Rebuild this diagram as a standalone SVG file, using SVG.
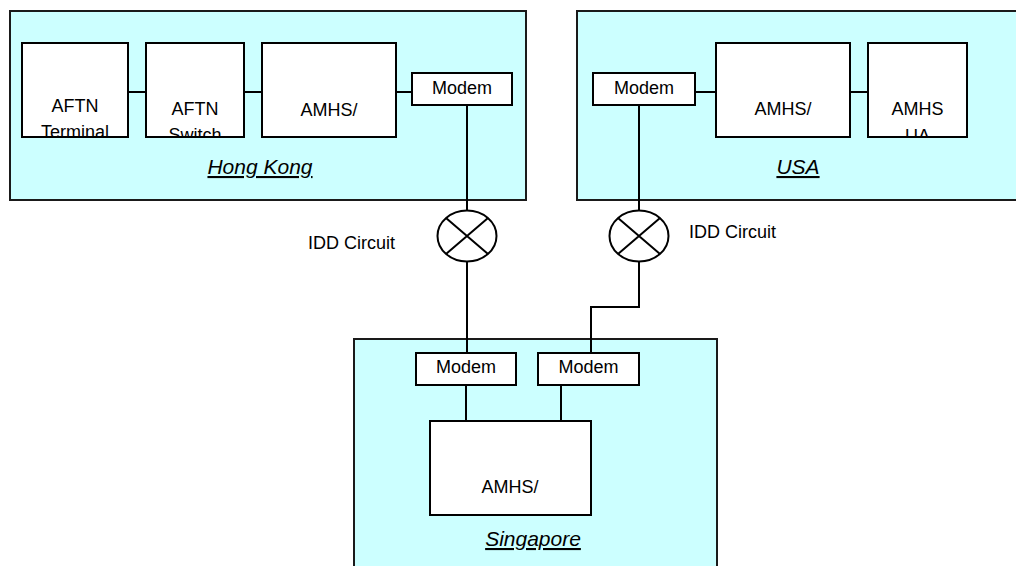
<svg xmlns="http://www.w3.org/2000/svg" width="1016" height="566" viewBox="0 0 1016 566">
<style>
.region{fill:#ccffff;stroke:#1a1a1a;stroke-width:2}
.box{fill:#ffffff;stroke:#000;stroke-width:2}
.t{font-family:"Liberation Sans",Arial,sans-serif;font-size:18px;fill:#000;text-anchor:middle}
.lbl{font-family:"Liberation Sans",Arial,sans-serif;font-size:21px;font-style:italic;text-decoration:underline;fill:#000;text-anchor:middle}
.plain{font-family:"Liberation Sans",Arial,sans-serif;font-size:18px;fill:#000}
.wire{fill:none;stroke:#000;stroke-width:2}
.sym{fill:#ffffff;stroke:#000;stroke-width:2}
</style>
<defs>
<clipPath id="cTerm"><rect x="23" y="44" width="104" height="92"/></clipPath>
<clipPath id="cSw"><rect x="147" y="44" width="96" height="92"/></clipPath>
<clipPath id="cUA"><rect x="869" y="44" width="97" height="92"/></clipPath>
</defs>

<g id="hongkong">
<rect class="region" x="10" y="11" width="516" height="189"/>
<text class="lbl" x="260" y="174">Hong Kong</text>
</g>
<g id="usa">
<rect class="region" x="577" y="11" width="450" height="189"/>
<text class="lbl" x="798" y="174">USA</text>
</g>
<g id="singapore">
<rect class="region" x="354" y="339" width="363" height="240"/>
<text class="lbl" x="533" y="546">Singapore</text>
</g>

<g id="connectors">
<line class="wire" x1="128" y1="92" x2="146" y2="92"/>
<line class="wire" x1="244" y1="92" x2="262" y2="92"/>
<line class="wire" x1="396" y1="92" x2="412" y2="92"/>
<line class="wire" x1="695" y1="92" x2="716" y2="92"/>
<line class="wire" x1="850" y1="92" x2="868" y2="92"/>
<polyline class="wire" points="467,105 467,353"/>
<polyline class="wire" points="639,105 639,307 591,307 591,353"/>
<line class="wire" x1="466" y1="385" x2="466" y2="421"/>
<line class="wire" x1="561" y1="385" x2="561" y2="421"/>
</g>

<g id="aftn-terminal">
<rect class="box" x="22" y="43" width="106" height="94"/>
<g clip-path="url(#cTerm)">
<text class="t" x="75" y="112">AFTN</text>
<text class="t" x="75" y="138">Terminal</text>
</g>
</g>
<g id="aftn-switch">
<rect class="box" x="146" y="43" width="98" height="94"/>
<g clip-path="url(#cSw)">
<text class="t" x="195" y="115">AFTN</text>
<text class="t" x="195" y="141">Switch</text>
</g>
</g>
<g id="hk-amhs">
<rect class="box" x="262" y="43" width="134" height="94"/>
<text class="t" x="329" y="116">AMHS/</text>
</g>
<g id="hk-modem">
<rect class="box" x="412" y="73" width="100" height="32"/>
<text class="t" x="462" y="94">Modem</text>
</g>

<g id="usa-modem">
<rect class="box" x="593" y="73" width="102" height="32"/>
<text class="t" x="644" y="94">Modem</text>
</g>
<g id="usa-amhs">
<rect class="box" x="716" y="43" width="134" height="94"/>
<text class="t" x="783" y="115">AMHS/</text>
</g>
<g id="usa-ua">
<rect class="box" x="868" y="43" width="99" height="94"/>
<g clip-path="url(#cUA)">
<text class="t" x="917.5" y="115">AMHS</text>
<text class="t" x="917.5" y="142">UA</text>
</g>
</g>

<g id="idd-left">
<ellipse class="sym" cx="467" cy="236" rx="29.5" ry="25.5"/>
<path class="wire" d="M446,218 L488,254 M488,218 L446,254"/>
<text class="plain" x="308" y="249">IDD Circuit</text>
</g>
<g id="idd-right">
<ellipse class="sym" cx="639" cy="236" rx="29.5" ry="25.5"/>
<path class="wire" d="M618,218 L660,254 M660,218 L618,254"/>
<text class="plain" x="689" y="238">IDD Circuit</text>
</g>

<g id="sg-modem1">
<rect class="box" x="416" y="353" width="100" height="32"/>
<text class="t" x="466" y="373">Modem</text>
</g>
<g id="sg-modem2">
<rect class="box" x="538" y="353" width="101" height="32"/>
<text class="t" x="588.5" y="373">Modem</text>
</g>
<g id="sg-amhs">
<rect class="box" x="430" y="421" width="161" height="94"/>
<text class="t" x="510" y="493">AMHS/</text>
</g>
</svg>
